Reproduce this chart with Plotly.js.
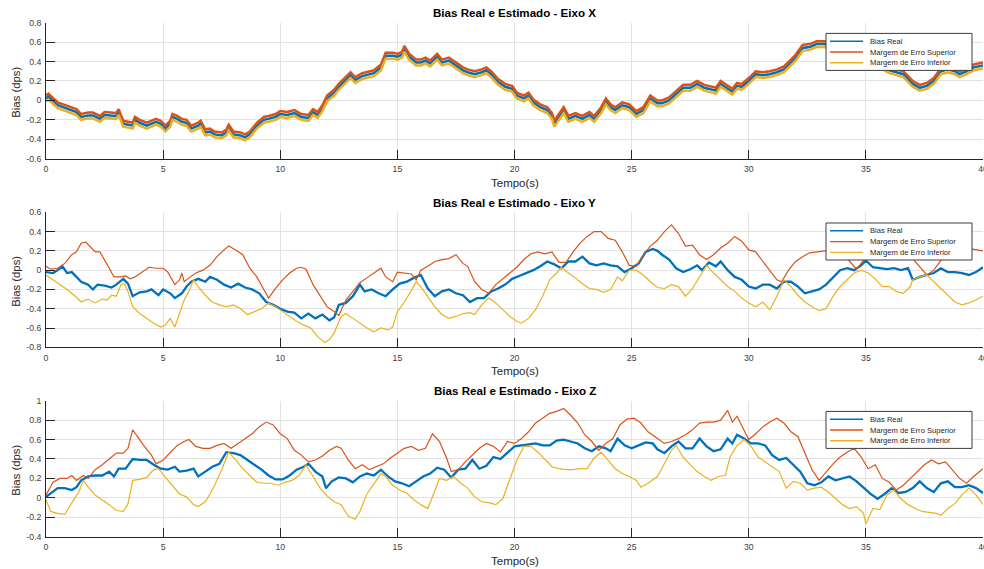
<!DOCTYPE html>
<html>
<head>
<meta charset="utf-8">
<script src="https://cdn.plot.ly/plotly-3.0.1.min.js"></script>
<style>
  html, body { margin: 0; padding: 0; background: #ffffff; }
  #chart { width: 984px; height: 569px; }
</style>
</head>
<body>
<div id="chart"></div>
<script>
// ---- Eixo X ----
const tX = [0,0.1,0.5,1,1.3,1.5,1.8,2,2.3,2.5,3,3.1,3.3,3.5,3.7,3.8,4,4.3,4.5,4.7,4.9,5.1,5.3,5.4,5.6,5.8,6,6.2,6.5,6.6,6.8,7,7.2,7.5,7.7,7.8,8,8.3,8.5,8.7,9,9.3,9.5,9.8,10,10.3,10.6,10.9,11.2,11.4,11.6,11.8,12,12.3,12.5,12.8,13,13.2,13.5,14,14.3,14.5,14.8,15,15.2,15.3,15.5,15.8,16,16.2,16.4,16.7,16.9,17.2,17.5,17.8,18,18.3,18.6,18.8,19,19.3,19.6,19.9,20.1,20.4,20.6,20.8,21.1,21.4,21.6,21.7,21.9,22.1,22.3,22.6,22.9,23.2,23.4,23.7,23.9,24.1,24.3,24.6,24.9,25.2,25.5,25.8,26.1,26.3,26.6,26.9,27.2,27.5,27.8,28.1,28.4,28.6,28.8,29,29.3,29.5,29.7,30,30.3,30.6,30.9,31.2,31.5,31.8,32,32.3,32.6,32.9,33.2,33.6,34,34.5,35,35.5,36,36.3,36.6,37,37.3,37.6,37.9,38.2,38.5,38.8,39,39.3,39.6,40];
const realX = [0.02,0.04,-0.05,-0.09,-0.12,-0.17,-0.155,-0.155,-0.19,-0.15,-0.16,-0.12,-0.24,-0.25,-0.26,-0.2,-0.23,-0.26,-0.24,-0.22,-0.24,-0.29,-0.24,-0.17,-0.19,-0.22,-0.23,-0.29,-0.26,-0.24,-0.33,-0.32,-0.35,-0.36,-0.33,-0.28,-0.35,-0.36,-0.38,-0.35,-0.26,-0.2,-0.19,-0.17,-0.14,-0.15,-0.13,-0.17,-0.18,-0.12,-0.15,-0.08,0.02,0.08,0.14,0.21,0.26,0.21,0.25,0.28,0.34,0.46,0.46,0.45,0.47,0.53,0.45,0.39,0.39,0.41,0.38,0.45,0.39,0.41,0.36,0.31,0.29,0.27,0.29,0.31,0.27,0.19,0.14,0.12,0.05,0.02,0.05,-0.02,-0.07,-0.1,-0.16,-0.24,-0.17,-0.1,-0.19,-0.16,-0.19,-0.15,-0.19,-0.1,-0.01,-0.07,-0.1,-0.05,-0.07,-0.14,-0.1,0.02,-0.03,-0.03,0.0,0.07,0.13,0.13,0.17,0.13,0.11,0.1,0.17,0.14,0.09,0.15,0.14,0.2,0.27,0.26,0.27,0.29,0.32,0.39,0.44,0.54,0.55,0.58,0.58,0.57,0.55,0.5,0.45,0.38,0.31,0.29,0.27,0.17,0.13,0.15,0.2,0.3,0.32,0.3,0.27,0.3,0.34,0.36];
const supX = [0.05,0.07,-0.02,-0.06,-0.09,-0.14,-0.125,-0.125,-0.16,-0.12,-0.13,-0.09,-0.21,-0.22,-0.23,-0.17,-0.2,-0.23,-0.21,-0.19,-0.21,-0.26,-0.21,-0.14,-0.16,-0.19,-0.2,-0.26,-0.23,-0.21,-0.3,-0.29,-0.32,-0.33,-0.3,-0.25,-0.32,-0.33,-0.35,-0.32,-0.23,-0.17,-0.16,-0.14,-0.11,-0.12,-0.1,-0.14,-0.15,-0.09,-0.12,-0.05,0.05,0.11,0.17,0.24,0.29,0.24,0.28,0.31,0.37,0.49,0.49,0.48,0.5,0.56,0.48,0.42,0.42,0.44,0.41,0.48,0.42,0.44,0.39,0.34,0.32,0.3,0.32,0.34,0.3,0.22,0.17,0.15,0.08,0.05,0.08,0.01,-0.04,-0.07,-0.13,-0.21,-0.14,-0.07,-0.16,-0.13,-0.16,-0.12,-0.16,-0.07,0.02,-0.04,-0.07,-0.02,-0.04,-0.11,-0.07,0.05,0.0,0.0,0.03,0.1,0.16,0.16,0.2,0.16,0.14,0.13,0.2,0.17,0.12,0.18,0.17,0.23,0.3,0.29,0.3,0.32,0.35,0.42,0.47,0.57,0.58,0.61,0.61,0.6,0.58,0.53,0.48,0.41,0.34,0.32,0.3,0.2,0.16,0.18,0.23,0.33,0.35,0.33,0.3,0.33,0.37,0.39];
const infX = [-0.01,0.01,-0.08,-0.12,-0.15,-0.2,-0.185,-0.185,-0.22,-0.18,-0.19,-0.15,-0.27,-0.28,-0.29,-0.23,-0.26,-0.29,-0.27,-0.25,-0.27,-0.32,-0.27,-0.2,-0.22,-0.25,-0.26,-0.32,-0.29,-0.27,-0.36,-0.35,-0.38,-0.39,-0.36,-0.31,-0.38,-0.39,-0.41,-0.38,-0.29,-0.23,-0.22,-0.2,-0.17,-0.18,-0.16,-0.2,-0.21,-0.15,-0.18,-0.11,-0.01,0.05,0.11,0.18,0.23,0.18,0.22,0.25,0.31,0.43,0.43,0.42,0.44,0.5,0.42,0.36,0.36,0.38,0.35,0.42,0.36,0.38,0.33,0.28,0.26,0.24,0.26,0.28,0.24,0.16,0.11,0.09,0.02,-0.01,0.02,-0.05,-0.1,-0.13,-0.19,-0.27,-0.2,-0.13,-0.22,-0.19,-0.22,-0.18,-0.22,-0.13,-0.04,-0.1,-0.13,-0.08,-0.1,-0.17,-0.13,-0.01,-0.06,-0.06,-0.03,0.04,0.1,0.1,0.14,0.1,0.08,0.07,0.14,0.11,0.06,0.12,0.11,0.17,0.24,0.23,0.24,0.26,0.29,0.36,0.41,0.51,0.52,0.55,0.55,0.54,0.52,0.47,0.42,0.35,0.28,0.26,0.24,0.14,0.1,0.12,0.17,0.27,0.29,0.27,0.24,0.27,0.31,0.33];

// ---- Eixo Y ----
const tYreal = [0,0.3,0.5,0.7,0.9,1.1,1.3,1.5,1.8,2,2.2,2.5,2.8,3,3.3,3.5,3.7,4,4.3,4.5,4.8,5,5.3,5.5,5.8,6,6.2,6.5,6.8,7,7.3,7.6,7.9,8.2,8.5,8.8,9.1,9.4,9.7,10,10.3,10.6,10.9,11.2,11.5,11.8,12.1,12.3,12.5,12.8,13.1,13.4,13.6,13.9,14.2,14.5,14.8,15.1,15.4,15.7,16,16.3,16.6,16.9,17.2,17.5,17.8,18.1,18.4,18.7,19,19.3,19.6,19.9,20.2,20.5,20.8,21.1,21.4,21.7,22,22.3,22.6,22.9,23.2,23.5,23.8,24.1,24.4,24.7,25,25.3,25.6,25.9,26.1,26.3,26.6,26.9,27.2,27.5,27.8,28,28.3,28.6,28.8,29.1,29.4,29.7,30,30.3,30.6,30.9,31.2,31.5,31.8,32.1,32.4,32.7,33,33.3,33.6,33.9,34.2,34.5,34.8,35,35.3,35.6,35.9,36.2,36.5,36.8,37,37.3,37.6,37.9,38.2,38.5,38.8,39.1,39.4,39.7,40];
const realY = [-0.02,-0.03,0.0,0.04,-0.03,-0.02,-0.07,-0.12,-0.15,-0.2,-0.15,-0.16,-0.18,-0.15,-0.09,-0.14,-0.27,-0.23,-0.22,-0.2,-0.26,-0.2,-0.24,-0.29,-0.24,-0.17,-0.12,-0.09,-0.12,-0.07,-0.1,-0.15,-0.18,-0.14,-0.18,-0.2,-0.24,-0.33,-0.36,-0.4,-0.43,-0.44,-0.5,-0.45,-0.5,-0.46,-0.52,-0.49,-0.36,-0.34,-0.27,-0.15,-0.22,-0.2,-0.24,-0.27,-0.2,-0.14,-0.12,-0.08,-0.05,-0.19,-0.27,-0.22,-0.2,-0.24,-0.26,-0.33,-0.29,-0.29,-0.22,-0.19,-0.15,-0.09,-0.06,-0.03,0.0,0.04,0.09,0.06,0.02,0.09,0.09,0.14,0.07,0.05,0.07,0.05,0.04,-0.02,0.02,0.07,0.19,0.22,0.2,0.16,0.11,0.02,-0.02,0.01,0.05,0.0,0.08,0.04,0.09,0.0,-0.07,-0.1,-0.17,-0.19,-0.15,-0.15,-0.19,-0.12,-0.12,-0.17,-0.24,-0.22,-0.2,-0.15,-0.07,0.0,0.02,0.0,0.05,0.1,0.03,0.02,0.01,0.02,0.0,0.02,-0.1,-0.07,-0.05,-0.03,0.02,-0.02,-0.02,-0.03,-0.05,-0.02,0.03];
const tYsup = [0,0.2,0.5,0.8,1.1,1.3,1.5,1.7,1.9,2.1,2.3,2.5,2.7,2.9,3.2,3.4,3.6,3.8,4.1,4.4,4.7,5,5.2,5.4,5.5,5.7,5.8,5.9,6.1,6.4,6.7,7,7.3,7.6,7.8,8.1,8.4,8.7,9,9.3,9.5,9.8,10.1,10.4,10.7,10.9,11.1,11.4,11.7,12,12.3,12.5,12.8,13.1,13.4,13.7,14,14.3,14.5,14.8,15,15.3,15.6,15.8,16,16.3,16.6,16.9,17.2,17.5,17.8,18,18.3,18.6,18.9,19.2,19.5,19.8,20.1,20.4,20.7,21,21.3,21.6,21.9,22.2,22.5,22.8,23.1,23.4,23.7,24,24.3,24.6,24.9,25.2,25.5,25.8,26.1,26.4,26.7,27,27.3,27.6,27.9,28.2,28.5,28.8,29.1,29.4,29.7,30,30.3,30.6,30.9,31.2,31.4,31.7,32,32.3,32.6,32.9,33.2,33.6,34,34.3,34.6,34.9,35.3,35.7,36.1,36.5,36.8,37.1,37.4,37.6,37.9,38.2,38.6,39,39.5,40];
const supY = [0.04,0.01,0.02,0.07,0.16,0.19,0.28,0.29,0.24,0.19,0.19,0.11,0.02,-0.07,-0.07,-0.06,-0.09,-0.07,-0.02,0.03,0.02,0.02,-0.02,-0.1,-0.15,-0.1,-0.03,-0.12,-0.08,-0.03,0.0,0.05,0.14,0.21,0.25,0.21,0.16,0.02,-0.07,-0.2,-0.29,-0.19,-0.1,-0.03,0.02,0.03,0.01,-0.15,-0.27,-0.38,-0.43,-0.47,-0.31,-0.22,-0.13,-0.08,-0.03,0.02,-0.07,-0.12,-0.02,-0.03,-0.04,-0.1,0.0,0.04,0.09,0.11,0.12,0.16,0.07,0.04,-0.12,-0.2,-0.24,-0.15,-0.09,-0.03,0.03,0.11,0.17,0.19,0.17,0.19,0.08,0.08,0.19,0.28,0.35,0.4,0.4,0.33,0.31,0.19,0.05,0.04,0.16,0.25,0.31,0.4,0.47,0.38,0.25,0.26,0.16,0.11,0.16,0.23,0.28,0.35,0.3,0.21,0.19,0.09,0.0,-0.1,-0.12,0.0,0.09,0.14,0.18,0.19,0.2,0.21,0.18,0.1,0.01,0.1,0.2,0.27,0.3,0.28,0.2,0.09,0.0,-0.05,0.0,0.1,0.2,0.25,0.22,0.2];
const tYinf = [0,0.3,0.6,0.9,1.2,1.5,1.8,2.1,2.4,2.6,2.8,3,3.2,3.35,3.5,3.7,4,4.3,4.6,4.9,5.1,5.3,5.5,5.7,5.9,6.1,6.3,6.5,6.8,7.1,7.4,7.7,8,8.3,8.6,8.9,9.2,9.5,9.8,10.1,10.4,10.7,11,11.3,11.6,11.9,12.1,12.3,12.6,12.8,13.1,13.4,13.7,14,14.3,14.6,14.8,15,15.3,15.6,15.8,16,16.3,16.6,16.9,17.2,17.5,17.8,18.1,18.3,18.6,18.9,19.2,19.5,19.8,20.1,20.3,20.6,20.9,21.2,21.5,21.8,22,22.3,22.6,22.9,23.2,23.5,23.8,24.1,24.4,24.6,24.9,25.2,25.5,25.8,26.1,26.4,26.7,27,27.3,27.6,27.9,28.2,28.5,28.8,29.1,29.4,29.7,30,30.3,30.6,30.9,31.2,31.5,31.8,32.1,32.4,32.7,33,33.3,33.6,33.9,34.2,34.5,34.8,35.1,35.4,35.7,36,36.3,36.6,36.9,37,37.3,37.6,37.9,38.2,38.5,38.8,39.1,39.4,39.7,40];
const infY = [-0.05,-0.1,-0.15,-0.2,-0.26,-0.33,-0.3,-0.34,-0.3,-0.31,-0.26,-0.27,-0.15,-0.14,-0.22,-0.38,-0.45,-0.5,-0.55,-0.59,-0.57,-0.5,-0.59,-0.45,-0.31,-0.22,-0.1,-0.17,-0.26,-0.33,-0.36,-0.38,-0.36,-0.4,-0.46,-0.43,-0.4,-0.34,-0.38,-0.43,-0.48,-0.53,-0.57,-0.6,-0.69,-0.75,-0.72,-0.65,-0.48,-0.45,-0.5,-0.55,-0.6,-0.64,-0.6,-0.62,-0.59,-0.43,-0.33,-0.21,-0.12,-0.17,-0.27,-0.38,-0.46,-0.5,-0.48,-0.45,-0.44,-0.46,-0.36,-0.29,-0.34,-0.41,-0.48,-0.53,-0.55,-0.5,-0.41,-0.27,-0.1,-0.03,0.03,-0.03,-0.08,-0.14,-0.19,-0.2,-0.23,-0.2,-0.07,-0.11,0.0,0.0,-0.05,-0.12,-0.18,-0.19,-0.15,-0.17,-0.27,-0.19,-0.07,0.05,-0.03,-0.1,-0.17,-0.22,-0.29,-0.34,-0.38,-0.33,-0.41,-0.27,-0.1,-0.17,-0.26,-0.33,-0.38,-0.42,-0.4,-0.27,-0.17,-0.1,-0.03,0.0,-0.03,-0.09,-0.17,-0.17,-0.22,-0.24,-0.17,-0.1,-0.07,-0.05,-0.12,-0.19,-0.27,-0.33,-0.36,-0.34,-0.31,-0.27];

// ---- Eixo Z ----
const tZreal = [0,0.2,0.5,0.8,1.1,1.3,1.5,1.8,2.1,2.4,2.7,2.9,3.1,3.4,3.7,4,4.3,4.6,4.9,5.2,5.5,5.7,6,6.3,6.5,6.8,7.1,7.4,7.7,8,8.3,8.6,8.9,9.2,9.5,9.8,10.1,10.4,10.7,11,11.2,11.5,11.8,11.95,12.2,12.5,12.8,13.1,13.4,13.7,14,14.3,14.6,14.9,15.2,15.5,15.8,16.1,16.4,16.7,17,17.3,17.6,17.9,18.2,18.5,18.8,19.1,19.4,19.7,20,20.3,20.6,20.9,21.2,21.5,21.8,22.1,22.4,22.7,23,23.3,23.6,23.9,24.1,24.4,24.7,25,25.3,25.6,25.9,26.1,26.4,26.7,27,27.3,27.6,27.9,28.2,28.5,28.8,29.1,29.3,29.5,29.8,30.1,30.4,30.7,31,31.3,31.6,31.9,32.2,32.5,32.8,33.1,33.4,33.7,34,34.3,34.6,34.9,35.2,35.5,35.8,36.1,36.4,36.7,37,37.3,37.6,37.9,38.2,38.5,38.8,39.1,39.4,39.7,40];
const realZ = [0.01,0.05,0.1,0.1,0.08,0.11,0.18,0.22,0.23,0.23,0.27,0.22,0.3,0.3,0.4,0.39,0.39,0.34,0.3,0.29,0.32,0.27,0.28,0.3,0.22,0.27,0.32,0.35,0.47,0.46,0.44,0.39,0.34,0.29,0.23,0.19,0.19,0.23,0.29,0.32,0.35,0.27,0.22,0.1,0.17,0.21,0.2,0.16,0.22,0.25,0.23,0.29,0.22,0.17,0.15,0.12,0.17,0.22,0.25,0.31,0.29,0.21,0.29,0.3,0.39,0.3,0.33,0.42,0.4,0.46,0.53,0.54,0.55,0.56,0.54,0.54,0.59,0.6,0.58,0.56,0.51,0.48,0.53,0.51,0.48,0.61,0.54,0.51,0.54,0.57,0.56,0.5,0.46,0.53,0.58,0.51,0.51,0.61,0.53,0.48,0.5,0.61,0.56,0.65,0.61,0.56,0.56,0.54,0.44,0.39,0.41,0.34,0.27,0.15,0.13,0.16,0.22,0.18,0.2,0.22,0.17,0.1,0.04,-0.01,0.04,0.1,0.05,0.06,0.1,0.17,0.1,0.06,0.15,0.17,0.11,0.11,0.13,0.1,0.05];
const tZsup = [0,0.3,0.6,0.9,1.1,1.3,1.6,1.8,2.1,2.4,2.7,3,3.3,3.5,3.7,3.9,4.2,4.5,4.7,5,5.3,5.6,5.9,6.1,6.4,6.7,7,7.3,7.6,7.9,8.2,8.5,8.8,9.1,9.4,9.7,10,10.3,10.6,10.9,11.2,11.5,11.8,12.1,12.4,12.6,12.9,13.2,13.5,13.8,14.1,14.4,14.7,15,15.3,15.6,15.9,16.2,16.5,16.8,17.1,17.3,17.6,17.9,18.2,18.5,18.8,19.1,19.4,19.7,20,20.3,20.6,20.9,21.2,21.5,21.8,22.1,22.4,22.7,23,23.3,23.6,23.9,24.2,24.5,24.8,25.1,25.4,25.7,26,26.4,26.7,27,27.3,27.6,27.9,28.2,28.5,28.8,29.1,29.3,29.5,29.8,30,30.3,30.6,30.9,31.2,31.5,31.8,32.1,32.4,32.7,33,33.3,33.6,33.9,34.2,34.5,34.8,35.1,35.4,35.7,36,36.3,36.6,36.9,37.2,37.5,37.8,38.1,38.4,38.7,39,39.3,39.6,40];
const supZ = [0.03,0.16,0.2,0.2,0.23,0.18,0.23,0.2,0.29,0.34,0.4,0.46,0.46,0.51,0.7,0.63,0.53,0.44,0.35,0.39,0.47,0.54,0.58,0.6,0.53,0.51,0.51,0.54,0.56,0.51,0.56,0.61,0.66,0.73,0.78,0.75,0.66,0.61,0.49,0.44,0.37,0.39,0.43,0.49,0.53,0.51,0.39,0.3,0.34,0.29,0.32,0.35,0.41,0.46,0.51,0.53,0.49,0.51,0.66,0.58,0.41,0.27,0.29,0.37,0.44,0.51,0.56,0.53,0.47,0.58,0.56,0.61,0.68,0.77,0.82,0.87,0.89,0.92,0.85,0.77,0.65,0.58,0.49,0.56,0.61,0.75,0.81,0.82,0.77,0.68,0.63,0.56,0.58,0.61,0.65,0.7,0.77,0.78,0.78,0.8,0.9,0.78,0.84,0.7,0.6,0.66,0.73,0.78,0.82,0.77,0.68,0.63,0.46,0.29,0.18,0.27,0.35,0.42,0.47,0.51,0.42,0.3,0.34,0.2,0.16,0.08,0.13,0.2,0.27,0.34,0.39,0.35,0.37,0.29,0.2,0.15,0.22,0.3];
const tZinf = [0,0.2,0.5,0.8,1,1.2,1.4,1.6,1.8,2.1,2.4,2.7,3,3.3,3.5,3.7,4,4.3,4.6,4.8,5.1,5.4,5.7,6,6.3,6.5,6.8,7,7.2,7.5,7.8,8.1,8.4,8.7,9,9.3,9.6,9.9,10.2,10.5,10.8,11.1,11.4,11.7,12,12.3,12.6,12.9,13.2,13.4,13.7,14,14.3,14.5,14.8,15.1,15.4,15.7,16,16.3,16.5,16.8,17.1,17.4,17.7,18,18.3,18.6,18.9,19.2,19.5,19.8,20.1,20.4,20.7,21,21.3,21.6,21.9,22.2,22.5,22.8,23.1,23.4,23.7,24,24.3,24.6,24.9,25.2,25.4,25.7,26.1,26.4,26.7,26.9,27.2,27.5,27.8,28.1,28.4,28.7,29,29.2,29.5,29.8,30.1,30.4,30.7,31,31.3,31.6,31.9,32.2,32.5,32.8,33.1,33.4,33.7,34,34.3,34.6,34.9,35,35.3,35.6,35.9,36.2,36.5,36.8,37.1,37.4,37.7,38,38.2,38.5,38.8,39.1,39.4,39.7,40];
const infZ = [-0.02,-0.14,-0.16,-0.17,-0.09,-0.01,0.06,0.18,0.11,0.03,-0.02,-0.07,-0.13,-0.14,-0.06,0.18,0.19,0.21,0.29,0.3,0.21,0.13,0.04,0.01,-0.07,-0.09,-0.04,0.04,0.13,0.29,0.47,0.39,0.3,0.23,0.16,0.15,0.15,0.13,0.16,0.18,0.23,0.34,0.22,0.1,0.02,-0.04,-0.07,-0.19,-0.22,-0.14,0.04,0.15,0.25,0.22,0.13,0.08,0.05,-0.02,-0.07,-0.11,0.01,0.2,0.18,0.22,0.15,0.1,0.01,-0.04,-0.05,-0.07,-0.01,0.18,0.39,0.53,0.53,0.47,0.39,0.32,0.3,0.29,0.29,0.3,0.3,0.41,0.47,0.39,0.3,0.25,0.22,0.18,0.11,0.15,0.22,0.35,0.49,0.54,0.42,0.34,0.27,0.22,0.18,0.22,0.23,0.42,0.54,0.6,0.53,0.42,0.37,0.32,0.27,0.1,0.17,0.15,0.08,0.1,0.11,0.06,-0.01,-0.07,-0.11,-0.09,-0.16,-0.27,-0.11,-0.12,0.03,0.08,-0.01,-0.07,-0.11,-0.14,-0.15,-0.16,-0.18,-0.11,-0.06,0.03,0.1,0.03,-0.07];

// ---- Eixos e rótulos ----
const xTicks = [0,5,10,15,20,25,30,35,40];
const xTickText = ['0','5','10','15','20','25','30','35','40'];
const yTicksX = [-0.6,-0.4,-0.2,0,0.2,0.4,0.6,0.8];
const yTextX = ['-0.6','-0.4','-0.2','0','0.2','0.4','0.6','0.8'];
const yTicksY = [-0.8,-0.6,-0.4,-0.2,0,0.2,0.4,0.6];
const yTextY = ['-0.8','-0.6','-0.4','-0.2','0','0.2','0.4','0.6'];
const yTicksZ = [-0.4,-0.2,0,0.2,0.4,0.6,0.8,1];
const yTextZ = ['-0.4','-0.2','0','0.2','0.4','0.6','0.8','1'];
const titles = ['Bias Real e Estimado - Eixo X','Bias Real e Estimado - Eixo Y','Bias Real e Estimado - Eixo Z'];
const legendNames = ['Bias Real','Margem de Erro Superior','Margem de Erro Inferior'];
const colors = ['#0072BD','#D95319','#EDB120'];

// page geometry (pixels)
const W = 984, H = 569, L = 46, R = 1;
const PW = W - L - R;
const fx = p => (p - L) / PW;
const fy = p => 1 - p / H;
// plot boxes: [top, bottom] in pixels
const boxes = [[22.7,158.7],[212.3,347.3],[400.7,536.7]];

const FONT = 'Liberation Sans, Arial, Helvetica, sans-serif';
const AX = '#262626';

function line(x, y, color, width, ax) {
  return { x: x, y: y, type: 'scatter', mode: 'lines', xaxis: 'x' + ax, yaxis: 'y' + ax,
           line: { color: color, width: width }, showlegend: false, hoverinfo: 'skip' };
}

const data = [
  line(tX, realX, colors[0], 2.5, ''),
  line(tX, supX, colors[1], 2.5, ''),
  line(tX, infX, colors[2], 2.5, ''),
  line(tYreal, realY, colors[0], 2.3, '2'),
  line(tYsup, supY, colors[1], 1.2, '2'),
  line(tYinf, infY, colors[2], 1.2, '2'),
  line(tZreal, realZ, colors[0], 2.3, '3'),
  line(tZsup, supZ, colors[1], 1.2, '3'),
  line(tZinf, infZ, colors[2], 1.2, '3')
];

function xAxis(anchor) {
  return { domain: [0, 1], anchor: anchor, range: [0, 40], tickvals: xTicks, ticktext: xTickText,
           ticks: 'inside', ticklen: 9, tickwidth: 1, tickcolor: AX, showline: true, linecolor: AX, linewidth: 1,
           showgrid: true, gridcolor: '#e2e2e2', gridwidth: 1, zeroline: false, mirror: false,
           ticklabeloverflow: 'allow',
           tickfont: { family: FONT, size: 8.7, color: '#404040' }, ticklabelstandoff: 2 };
}
function yAxis(anchor, box, range, vals, text) {
  return { domain: [fy(box[1]), fy(box[0])], anchor: anchor, range: range, tickvals: vals, ticktext: text,
           ticks: 'inside', ticklen: 9, tickwidth: 1, tickcolor: AX, showline: true, linecolor: AX, linewidth: 1,
           showgrid: true, gridcolor: '#e2e2e2', gridwidth: 1, zeroline: false, mirror: false,
           ticklabeloverflow: 'allow',
           tickfont: { family: FONT, size: 8.7, color: '#404040' }, ticklabelstandoff: 2 };
}

const annotations = [];
const shapes = [];
boxes.forEach((b, i) => {
  const mid = (b[0] + b[1]) / 2;
  annotations.push({ xref: 'paper', yref: 'paper', x: fx(514.5), y: fy(b[0] - 10), xanchor: 'center', yanchor: 'middle',
    text: '<b>' + titles[i] + '</b>', showarrow: false, font: { family: FONT, size: 11.6, color: '#000000' } });
  annotations.push({ xref: 'paper', yref: 'paper', x: fx(514.5), y: fy(b[1] + 24), xanchor: 'center', yanchor: 'middle',
    text: 'Tempo(s)', showarrow: false, font: { family: FONT, size: 11.5, color: AX } });
  annotations.push({ xref: 'paper', yref: 'paper', x: fx(16), y: fy(mid + 2), xanchor: 'center', yanchor: 'middle',
    text: 'Bias (dps)', textangle: -90, showarrow: false, font: { family: FONT, size: 11.3, color: AX } });
  // legend box
  const top = b[0] + 10.7;
  shapes.push({ type: 'rect', xref: 'paper', yref: 'paper', x0: fx(826), x1: fx(972), y0: fy(top), y1: fy(top + 37),
    fillcolor: '#ffffff', line: { color: '#3c3c3c', width: 1 }, layer: 'above' });
  legendNames.forEach((name, k) => {
    const yy = top + 7.8 + k * 10.8;
    shapes.push({ type: 'line', xref: 'paper', yref: 'paper', x0: fx(830), x1: fx(863), y0: fy(yy), y1: fy(yy),
      line: { color: colors[k], width: 1.4 }, layer: 'above' });
    annotations.push({ xref: 'paper', yref: 'paper', x: fx(867.5), y: fy(yy), xanchor: 'left', yanchor: 'middle',
      text: name, showarrow: false, font: { family: FONT, size: 7.6, color: AX } });
  });
});

const layout = {
  width: W, height: H,
  margin: { l: L, r: R, t: 0, b: 0, pad: 0 },
  paper_bgcolor: '#ffffff', plot_bgcolor: '#ffffff',
  showlegend: false,
  xaxis: xAxis('y'), xaxis2: xAxis('y2'), xaxis3: xAxis('y3'),
  yaxis: yAxis('x', boxes[0], [-0.6, 0.8], yTicksX, yTextX),
  yaxis2: yAxis('x2', boxes[1], [-0.8, 0.6], yTicksY, yTextY),
  yaxis3: yAxis('x3', boxes[2], [-0.4, 1], yTicksZ, yTextZ),
  annotations: annotations,
  shapes: shapes
};

Plotly.newPlot('chart', data, layout, { staticPlot: true, displayModeBar: false });
</script>
</body>
</html>
